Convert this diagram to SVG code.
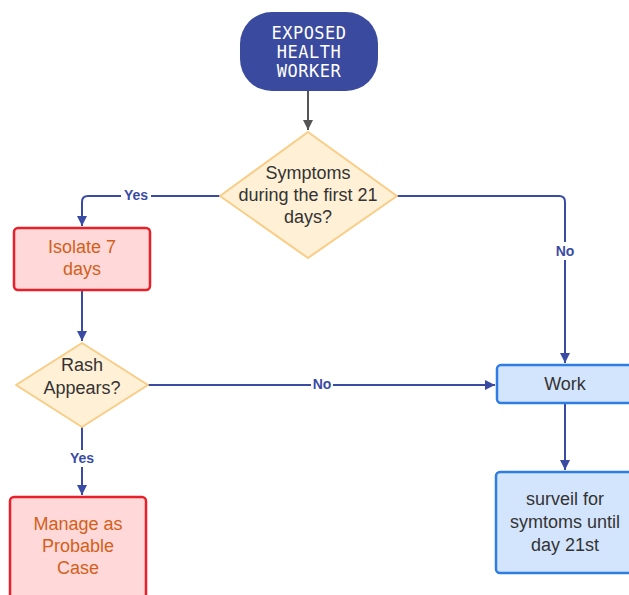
<svg xmlns="http://www.w3.org/2000/svg" width="629" height="595" viewBox="0 0 629 595">
<defs>
<style>
.t{font-family:"Liberation Sans",Arial,sans-serif;font-size:18px;fill:#333;text-anchor:middle}
.o{fill:#D2601A}
.mono{font-family:"DejaVu Sans Mono",monospace;font-size:17px;letter-spacing:0.5px;fill:#fff;text-anchor:middle}
.dia{fill:#FFF0D6;stroke:#F9CD86;stroke-width:2}
.red{fill:#FFD9D9;stroke:#E8202A;stroke-width:2.5}
.blue{fill:#D3E5FC;stroke:#2E7DE2;stroke-width:2.5}
.c{fill:none;stroke:#3A4BA4;stroke-width:2}
.lbl{font-family:"Liberation Sans",Arial,sans-serif;font-size:14px;font-weight:bold;fill:#3A4BA4;text-anchor:middle}
</style>
<marker id="ab" markerWidth="12" markerHeight="12" refX="10" refY="6" orient="auto" markerUnits="userSpaceOnUse"><path d="M0,1 L10,6 L0,11 Z" fill="#3A4BA4"/></marker>
<marker id="ag" markerWidth="12" markerHeight="12" refX="10" refY="6" orient="auto" markerUnits="userSpaceOnUse"><path d="M0,1 L10,6 L0,11 Z" fill="#555"/></marker>
</defs>
<g id="connectors">
<path d="M308,91 V130" fill="none" stroke="#555" stroke-width="2" marker-end="url(#ag)"/>
<path class="c" d="M220,196 H88 Q82,196 82,202 V226" marker-end="url(#ab)"/>
<path class="c" d="M397,196 H559 Q565,196 565,202 V363" marker-end="url(#ab)"/>
<path class="c" d="M82,290 V341" marker-end="url(#ab)"/>
<path class="c" d="M148,385 H495" marker-end="url(#ab)"/>
<path class="c" d="M82,427 V495" marker-end="url(#ab)"/>
<path class="c" d="M565,404 V470" marker-end="url(#ab)"/>
<rect x="121" y="188" width="30" height="15" fill="#fff"/>
<text class="lbl" x="136" y="200">Yes</text>
<rect x="553" y="242" width="24" height="18" fill="#fff"/>
<text class="lbl" x="565" y="256">No</text>
<rect x="311" y="377" width="22" height="15" fill="#fff"/>
<text class="lbl" x="322" y="389">No</text>
<rect x="67" y="450" width="30" height="17" fill="#fff"/>
<text class="lbl" x="82" y="463">Yes</text>
</g>
<g id="start">
<rect x="240" y="12" width="138" height="79" rx="32" fill="#3A4A9E"/>
<text class="mono" x="309" y="39">EXPOSED</text>
<text class="mono" x="309" y="58">HEALTH</text>
<text class="mono" x="309" y="77">WORKER</text>
</g>
<g id="symptoms">
<path class="dia" d="M308,132 L397,196 L308,258 L220,196 Z" stroke-linejoin="round"/>
<text class="t" x="308" y="179">Symptoms</text>
<text class="t" x="308" y="201">during the first 21</text>
<text class="t" x="308" y="223">days?</text>
</g>
<g id="isolate">
<rect class="red" x="14" y="228" width="136" height="62" rx="4"/>
<text class="t o" x="82" y="253">Isolate 7</text>
<text class="t o" x="82" y="275">days</text>
</g>
<g id="rash">
<path class="dia" d="M82,343 L148,385 L82,427 L16,385 Z" stroke-linejoin="round"/>
<text class="t" x="82" y="371">Rash</text>
<text class="t" x="82" y="394">Appears?</text>
</g>
<g id="manage">
<rect class="red" x="10" y="497" width="136" height="110" rx="4"/>
<text class="t o" x="78" y="530">Manage as</text>
<text class="t o" x="78" y="552">Probable</text>
<text class="t o" x="78" y="574">Case</text>
</g>
<g id="work">
<rect class="blue" x="497" y="365" width="140" height="38" rx="4"/>
<text class="t" x="565" y="390">Work</text>
</g>
<g id="surveil">
<rect class="blue" x="496" y="472" width="140" height="101" rx="4"/>
<text class="t" x="565" y="505">surveil for</text>
<text class="t" x="565" y="528">symtoms until</text>
<text class="t" x="565" y="551">day 21st</text>
</g>
</svg>
